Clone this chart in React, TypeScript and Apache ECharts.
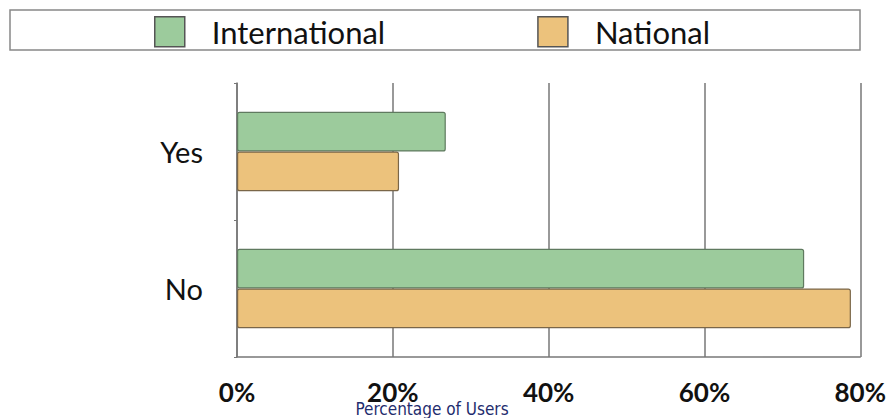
import React, { useEffect, useRef } from "react";
import * as echarts from "echarts";

const categories = ["Yes", "No"];
const seriesNames = ["International", "National"];
const internationalValues = [26.8, 72.8];
const nationalValues = [20.8, 78.8];
const xTicks = [0, 20, 40, 60, 80];
const xTitle = "Percentage of Users";

const FONT = "Lato, 'Open Sans', sans-serif";

export default function App() {
  const ref = useRef<HTMLDivElement>(null);
  useEffect(() => {
    if (!ref.current) return;
    const chart = echarts.init(ref.current, undefined, { renderer: "svg" });
    chart.setOption({
      animation: false,
      backgroundColor: "#ffffff",
      textStyle: { fontFamily: FONT },
      grid: { left: 237, right: 28, top: 83, bottom: 61, containLabel: false },
      legend: {
        data: seriesNames,
        left: 154,
        top: 16,
        padding: 0,
        itemWidth: 30,
        itemHeight: 30,
        itemGap: 152,
        icon: "rect",
        textStyle: { fontSize: 31, color: "#111", fontFamily: FONT, padding: [0, 0, 0, 22] },
        itemStyle: { borderColor: "#555", borderWidth: 1.5 },
      },
      graphic: [
        {
          type: "rect",
          shape: { x: 10, y: 10, width: 850, height: 40 },
          style: { fill: "none", stroke: "#888", lineWidth: 1.5 },
          z: -1,
        },
        {
          type: "text",
          x: 432,
          y: 409,
          style: {
            text: xTitle,
            fill: "#1f2d6e",
            fontSize: 17,
            fontFamily: "'Liberation Sans Narrow', 'DejaVu Sans Condensed', sans-serif",
            align: "center",
            verticalAlign: "middle",
          },
        },
      ],
      xAxis: {
        type: "value",
        min: xTicks[0],
        max: xTicks[xTicks.length - 1],
        interval: 20,
        axisLine: { show: true, lineStyle: { color: "#777", width: 1.5 } },
        axisTick: { show: false },
        splitLine: { show: true, lineStyle: { color: "#777", width: 1.5 } },
        axisLabel: {
          formatter: "{value}%",
          fontSize: 26,
          fontWeight: "bold",
          color: "#111",
          margin: 22,
          fontFamily: FONT,
        },
      },
      yAxis: {
        type: "category",
        data: categories,
        inverse: true,
        axisLine: { show: true, lineStyle: { color: "#777", width: 1.5 } },
        axisTick: { show: true, length: 3, lineStyle: { color: "#777" } },
        axisLabel: { fontSize: 29, color: "#111", margin: 34, fontFamily: FONT },
      },
      series: [
        {
          name: seriesNames[0],
          type: "bar",
          data: internationalValues,
          barGap: "0%",
          barCategoryGap: "42%",
          itemStyle: { color: "#9ccb9c", borderColor: "#5f7a5f", borderWidth: 1.2, borderRadius: 2 },
        },
        {
          name: seriesNames[1],
          type: "bar",
          data: nationalValues,
          barGap: "0%",
          barCategoryGap: "42%",
          itemStyle: { color: "#ecc27c", borderColor: "#7a6648", borderWidth: 1.2, borderRadius: 2 },
        },
      ],
    });
    return () => chart.dispose();
  }, []);
  return <div ref={ref} style={{ width: 889, height: 418, position: "absolute", left: 0, top: 0 }} />;
}
